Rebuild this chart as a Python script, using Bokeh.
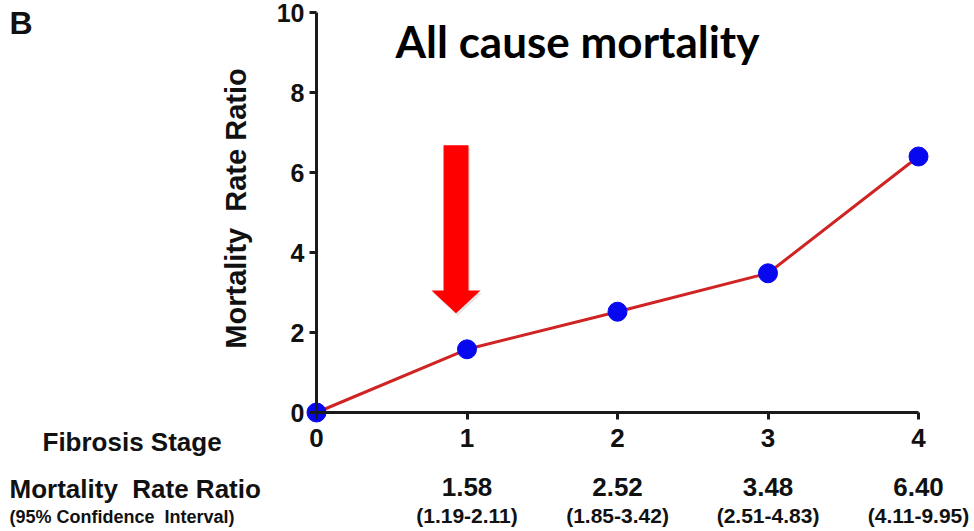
from bokeh.plotting import figure
from bokeh.models import Range1d, Label, FixedTicker, ColumnDataSource
from bokeh.core.properties import value
from bokeh.embed import file_html
from bokeh.resources import INLINE

# Mortality rate ratio by fibrosis stage (stage 0 is the reference)
stages = [0, 1, 2, 3, 4]
rate_ratio = [0.0, 1.58, 2.52, 3.48, 6.40]
ci_low = [None, 1.19, 1.85, 2.51, 4.11]
ci_high = [None, 2.11, 3.42, 4.83, 9.95]
y_ticks = [0, 2, 4, 6, 8, 10]

FONT = "Liberation Sans"
NBSP = "\u00a0"

# The frame fills the whole canvas; axes sit at data zero.
p = figure(width=974, height=531,
           x_range=Range1d(-2.0997, 4.372), y_range=Range1d(-2.975, 10.3),
           output_backend="svg", toolbar_location=None, min_border=0)
p.outline_line_color = None
p.grid.visible = False
p.background_fill_color = "white"

for ax in (p.xaxis[0], p.yaxis[0]):
    ax.fixed_location = 0
    ax.axis_line_width = 3
    ax.axis_line_color = "#1a1a1a"
    ax.major_tick_line_width = 3
    ax.major_tick_line_color = "#1a1a1a"
    ax.major_tick_in = 0
    ax.major_tick_out = 7
    ax.minor_tick_line_color = None
    ax.major_label_text_font = FONT
    ax.major_label_text_font_style = "bold"
    ax.major_label_text_color = "#111111"

p.xaxis[0].bounds = (0, 4)
p.xaxis[0].ticker = FixedTicker(ticks=stages)
p.xaxis[0].major_label_standoff = 9
p.xaxis[0].major_label_text_font_size = "26px"

p.yaxis[0].bounds = (0, 10)
p.yaxis[0].ticker = FixedTicker(ticks=y_ticks)
p.yaxis[0].major_label_standoff = 5
p.yaxis[0].major_label_text_font_size = "25px"
p.yaxis[0].axis_label = f"{NBSP}Mortality {NBSP}Rate Ratio"
p.yaxis[0].axis_label_text_font = FONT
p.yaxis[0].axis_label_text_font_style = "bold"
p.yaxis[0].axis_label_text_font_size = "29px"
p.yaxis[0].axis_label_text_color = "#111111"
p.yaxis[0].axis_label_standoff = 22

# Red arrow pointing at stage 1
arrow_x, arrow_top, arrow_tip = 0.927, 6.68, 2.48
shaft_half, head_half, head_len = 0.083, 0.163, 0.57
ax_pts = [arrow_x - shaft_half, arrow_x + shaft_half, arrow_x + shaft_half,
          arrow_x + head_half, arrow_x, arrow_x - head_half, arrow_x - shaft_half]
ay_pts = [arrow_top, arrow_top, arrow_tip + head_len, arrow_tip + head_len,
          arrow_tip, arrow_tip + head_len, arrow_tip + head_len]
p.patch([x + 0.01 for x in ax_pts], [y - 0.06 for y in ay_pts],
        fill_color="#999999", fill_alpha=0.25, line_color=None)
p.patch(ax_pts, ay_pts, fill_color="#ff0000", line_color=None)

# Trend line and points
src = ColumnDataSource(dict(x=stages, y=rate_ratio))
p.line("x", "y", source=src, line_color="#d02424", line_width=3)
p.scatter("x", "y", source=src, size=19, fill_color="#0808f0", line_color="#0808f0")

# Table under the axis
txt = dict(text_font=value(FONT), text_font_style="bold", text_color="#111111",
           text_align="center", text_baseline="middle")
p.text(x=stages[1:], y=[-1.86] * 4,
       text=[f"{v:.2f}" for v in rate_ratio[1:]], text_font_size="26px", **txt)
p.text(x=stages[1:], y=[-2.58] * 4,
       text=[f"({lo:.2f}-{hi:.2f})" for lo, hi in zip(ci_low[1:], ci_high[1:])],
       text_font_size="21px", **txt)

def screen_label(text, x, y, size, align="left"):
    p.add_layout(Label(x=x, y=531 - y, x_units="screen", y_units="screen", text=text,
                       text_font=FONT, text_font_style="bold", text_font_size=size,
                       text_color="#111111", text_align=align, text_baseline="middle"))

screen_label("B", 9, 22, "32px")
screen_label("Fibrosis Stage", 42, 441, "26px")
screen_label(f"Mortality {NBSP}Rate Ratio", 9, 488, "26px")
screen_label(f"(95% Confidence {NBSP}Interval)", 9, 516, "18px")

p.add_layout(Label(x=577, y=531 - 40, x_units="screen", y_units="screen",
                   text="All cause mortality", text_font="Lato", text_font_style="bold",
                   text_font_size="44px", text_color="#000000",
                   text_align="center", text_baseline="middle"))

open("out.html", "w").write(file_html(p, INLINE))
